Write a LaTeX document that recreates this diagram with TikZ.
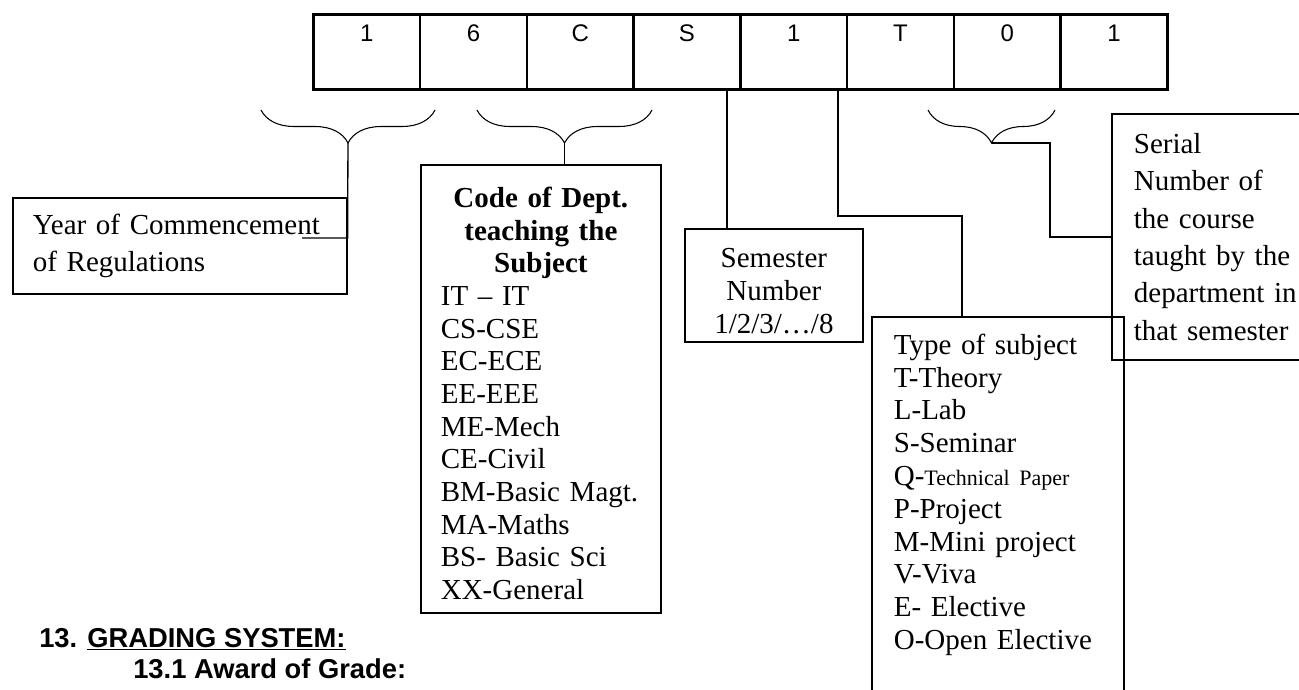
\documentclass[tikz,border=0pt]{standalone}
\usepackage{fontspec}
\setmainfont{Liberation Serif}
\setsansfont{Liberation Sans}
\usetikzlibrary{decorations.pathreplacing}

\newcommand{\deptline}[1]{\makebox[150pt]{\bfseries #1}}

\begin{document}
\begin{tikzpicture}[x=0.75pt,y=-0.75pt,
    cell/.style={draw,line width=2pt,anchor=north west,inner sep=0pt,
      minimum width=80.06pt,text height=20.5pt,text depth=35.75pt,
      font=\sffamily\fontsize{18}{20}\selectfont},
    infobox/.style={draw,line width=1.3pt},
    link/.style={line width=1pt},
    curly/.style={line width=0.8pt,decorate,decoration={brace,amplitude=24.75pt}},
    heading/.style={anchor=base west,inner sep=0pt,
      font=\sffamily\bfseries\fontsize{20.5}{24}\selectfont}]
  \useasboundingbox (0,0) rectangle (1299,689);

  % course code cells
  \foreach \sym [count=\i] in {1,6,C,S,1,T,0,1}
    \node[cell] (c\i) at ({312+(\i-1)*106.75},13) {\sym};

  % braces under the cells
  \draw[curly] (435,110) -- (261,110);
  \draw[curly] (652,110) -- (477,110);
  \draw[curly] (1055,110) -- (928,110);
  \coordinate (yrtip) at (348,143);
  \coordinate (depttip) at (564.5,143);
  \coordinate (sertip) at (991.5,143);

  % explanation boxes
  \node[infobox,anchor=north west,align=left,text width=220.5pt,inner xsep=15pt,
    minimum height=72pt,font=\fontsize{21.75}{27.75}\selectfont]
    (year) at (12,197) {Year of Commencement\\of Regulations};
  \node[infobox,anchor=north west,align=left,text width=150pt,inner xsep=15pt,
    minimum height=336pt,font=\fontsize{21.75}{24.5}\selectfont]
    (dept) at (420,164) {\rule{0pt}{22pt}\deptline{Code of Dept.}\\\deptline{teaching the}\\
      \deptline{Subject}\\IT – IT\\CS-CSE\\EC-ECE\\EE-EEE\\ME-Mech\\CE-Civil\\
      BM-Basic Magt.\\MA-Maths\\BS- Basic Sci\\XX-General};
  \node[infobox,anchor=north west,align=center,text width=113.5pt,inner xsep=10pt,
    minimum height=84.75pt,font=\fontsize{21.75}{24.4}\selectfont]
    (sem) at (684,228) {\rule{0pt}{23pt}Semester\\Number\\1/2/3/…/8};
  \node[infobox,anchor=north west,align=left,text width=156pt,inner xsep=16.5pt,
    inner ysep=12.75pt,font=\fontsize{21.75}{24.6}\selectfont]
    (type) at (871,316) {Type of subject\\T-Theory\\L-Lab\\S-Seminar\\
      Q-{\fontsize{16.5}{18}\selectfont Technical Paper}\\P-Project\\M-Mini project\\
      V-Viva\\E- Elective\\O-Open Elective\rule[-60pt]{0pt}{0pt}};
  \node[infobox,anchor=west,align=left,text width=142.5pt,inner xsep=16.5pt,
    minimum height=184.5pt,font=\fontsize{21.75}{28}\selectfont]
    (serial) at (1111,237) {Serial\\Number of\\the course\\taught by the\\
      department in\\that semester};

  % connectors
  \coordinate (yrend) at (302,238);
  \draw[link] (yrtip) -- (year.north east) |- (yrend);
  \draw[link] (depttip) -- (depttip |- dept.north);
  \coordinate (semtop) at (727,90);
  \draw[link] (semtop) -- (semtop |- sem.north);
  \coordinate (typetop) at (838,90);
  \coordinate (typeknee) at (962,216);
  \draw[link] (typetop) |- (typeknee) -- (typeknee |- type.north);
  \coordinate (serknee) at (1050,143);
  \draw[link] (sertip) -- (serknee) |- (serial.west);

  % section headings
  \node[heading] (sec) at (39,647) {13. \underline{GRADING SYSTEM:}};
  \node[heading] (subsec) at (133,678) {13.1 Award of Grade:};
\end{tikzpicture}
\end{document}
